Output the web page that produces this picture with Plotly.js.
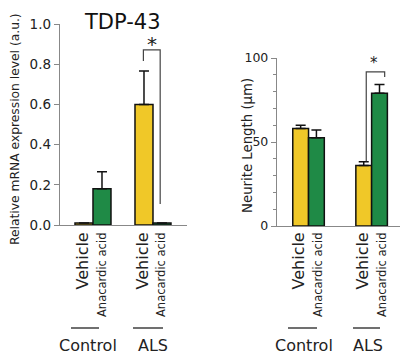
<!DOCTYPE html>
<html>
<head>
<meta charset="utf-8">
<script src="https://cdn.plot.ly/plotly-3.0.1.min.js"></script>
<style>html,body{margin:0;padding:0;background:#fff;}#chart{width:405px;height:359px;}</style>
</head>
<body>
<div id="chart"></div>
<script>
// ---- data ----
const groups = ["Control", "ALS"];
const treatments = ["Vehicle", "Anacardic acid"];
const mrnaVehicle = [0.01, 0.60];
const mrnaVehicleErr = [0.0, 0.166];
const mrnaAnacardic = [0.18, 0.01];
const mrnaAnacardicErr = [0.085, 0.0];
const neuriteVehicle = [58, 36];
const neuriteVehicleErr = [2, 2.3];
const neuriteAnacardic = [52.5, 79];
const neuriteAnacardicErr = [4.7, 5.2];
const leftTicks = [0, 0.2, 0.4, 0.6, 0.8, 1.0];
const rightTicks = [0, 50, 100];

const W = 405, H = 359;
const px = v => v / W;
const py = v => 1 - v / H;
const YEL = "#f0c828", GRN = "#1f8a46";
const FONT = "DejaVu Sans, Verdana, sans-serif";

function barTrace(y, err, color, xa, ya, w, off, name) {
  return {
    type: "bar", x: groups, y: y, name: name, xaxis: xa, yaxis: ya,
    width: w, offset: off,
    marker: {color: color, line: {color: "#111", width: 1.5}},
    error_y: {type: "data", symmetric: false, array: err,
              arrayminus: err.map(() => 0), color: "#111", thickness: 1.5, width: 5},
    showlegend: false
  };
}

const data = [
  barTrace(mrnaVehicle, mrnaVehicleErr, YEL, "x", "y", 0.3, -0.3, treatments[0]),
  barTrace(mrnaAnacardic, mrnaAnacardicErr, GRN, "x", "y", 0.3, 0, treatments[1]),
  barTrace(neuriteVehicle, neuriteVehicleErr, YEL, "x2", "y2", 0.25, -0.25, treatments[0]),
  barTrace(neuriteAnacardic, neuriteAnacardicErr, GRN, "x2", "y2", 0.25, 0, treatments[1])
];

const annotations = [];
function ann(o) {
  annotations.push(Object.assign({showarrow: false, xanchor: "center", yanchor: "middle",
    font: {family: FONT, color: "#222", size: 12}}, o));
}
// title
ann({text: "TDP-43", xref: "paper", yref: "paper", x: px(122), y: py(22), font: {family: FONT, size: 21, color: "#111"}});
// y titles
ann({text: "Relative mRNA expression level (a.u.)", xref: "paper", yref: "paper", x: px(15), y: py(129), textangle: -90, font: {family: FONT, size: 12.3, color: "#222"}});
ann({text: "Neurite Length (μm)", xref: "paper", yref: "paper", x: px(247), y: py(145), textangle: -90, font: {family: FONT, size: 13.3, color: "#222"}});

// per-bar labels
const labelSets = [
  {vx: [82, 142], ax: [102, 161]},
  {vx: [298, 362], ax: [318, 382]}
];
labelSets.forEach(s => {
  s.vx.forEach(x => ann({text: treatments[0], xref: "paper", yref: "paper", x: px(x), y: py(231), yanchor: "top", textangle: -90, font: {family: FONT, size: 16, color: "#222"}}));
  s.ax.forEach(x => ann({text: treatments[1], xref: "paper", yref: "paper", x: px(x), y: py(231), yanchor: "top", textangle: -90, font: {family: FONT, size: 11.5, color: "#222"}}));
});
// group labels
[[88, 0], [153, 1], [304, 0], [368, 1]].forEach(([x, g]) =>
  ann({text: groups[g], xref: "paper", yref: "paper", x: px(x), y: py(345), font: {family: FONT, size: 16, color: "#222"}}));
// stars
ann({text: "*", xref: "x", yref: "y", x: 0.98, y: 0.9, font: {family: FONT, size: 20, color: "#222"}});
ann({text: "*", xref: "x2", yref: "y2", x: 1.04, y: 97, font: {family: FONT, size: 15, color: "#222"}});

const shapes = [
  // group underlines
  {type: "line", xref: "paper", yref: "paper", x0: px(71), x1: px(99), y0: py(328), y1: py(328), line: {color: "#333", width: 1.4}},
  {type: "line", xref: "paper", yref: "paper", x0: px(133), x1: px(163), y0: py(328), y1: py(328), line: {color: "#333", width: 1.4}},
  {type: "line", xref: "paper", yref: "paper", x0: px(288), x1: px(317), y0: py(328), y1: py(328), line: {color: "#333", width: 1.4}},
  {type: "line", xref: "paper", yref: "paper", x0: px(353), x1: px(380), y0: py(328), y1: py(328), line: {color: "#333", width: 1.4}},
  // significance brackets
  {type: "path", xref: "x", yref: "y", path: "M 0.84 0.816 L 0.84 0.871 L 1.12 0.871 L 1.12 0.104", line: {color: "#444", width: 1.2}},
  {type: "path", xref: "x2", yref: "y2", path: "M 0.915 38.5 L 0.915 91.8 L 1.207 91.8 L 1.207 88.7", line: {color: "#444", width: 1.2}}
];

const axisCommon = {showgrid: false, zeroline: false, showline: true, linecolor: "#888", linewidth: 1.2};
const layout = {
  width: W, height: H,
  margin: {l: 0, r: 0, t: 0, b: 0},
  paper_bgcolor: "#fff", plot_bgcolor: "rgba(0,0,0,0)",
  barmode: "overlay",
  font: {family: FONT, color: "#222"},
  xaxis: Object.assign({}, axisCommon, {domain: [px(60), px(187)], range: [-0.55, 1.567], type: "category", showticklabels: false, ticks: "", anchor: "y"}),
  yaxis: Object.assign({}, axisCommon, {domain: [py(225), py(24)], range: [0, 1.0], tickvals: leftTicks, tickformat: ".1f", ticks: "outside", ticklen: 5, tickcolor: "#888", tickfont: {size: 13.5, color: "#222"}, anchor: "x"}),
  xaxis2: Object.assign({}, axisCommon, {domain: [px(277), px(400)], range: [-0.5, 1.45], type: "category", showticklabels: false, ticks: "", anchor: "y2"}),
  yaxis2: Object.assign({}, axisCommon, {domain: [py(226), py(58)], range: [0, 100], tickvals: rightTicks, ticks: "outside", ticklen: 5, tickcolor: "#888", tickfont: {size: 12.5, color: "#222"}, anchor: "x2",
    minor: {dtick: 10, ticks: "outside", ticklen: 3, tickcolor: "#888"}}),
  annotations: annotations,
  shapes: shapes
};

Plotly.newPlot("chart", data, layout, {staticPlot: true, displayModeBar: false});
</script>
</body>
</html>
